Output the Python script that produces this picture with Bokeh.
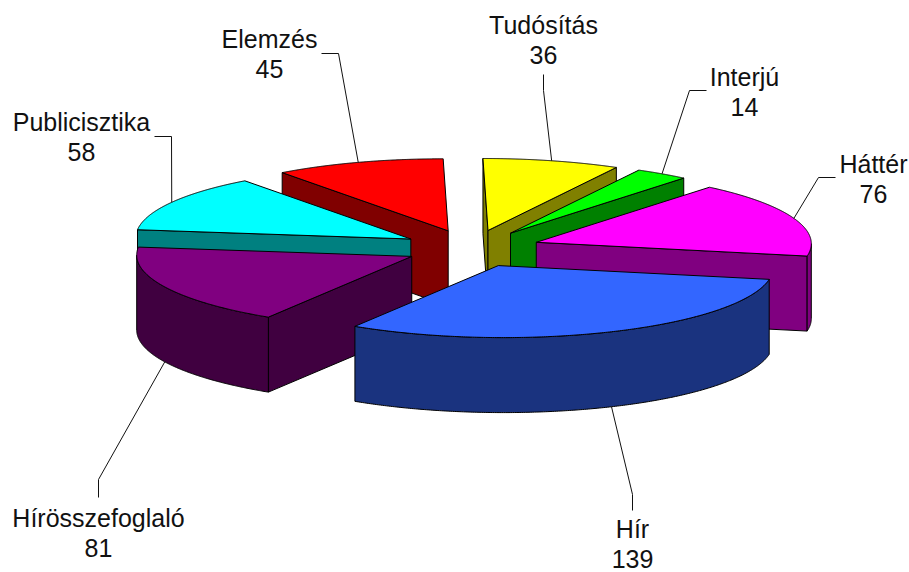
import numpy as np
from bokeh.core.properties import value
from bokeh.embed import file_html
from bokeh.models import Range1d
from bokeh.plotting import figure
from bokeh.resources import INLINE

# data, clockwise from twelve o'clock
categories = ["Tudósítás", "Interjú", "Háttér", "Hír", "Hírösszefoglaló", "Publicisztika", "Elemzés"]
values = [36, 14, 76, 139, 81, 58, 45]

# styles
top_colors = ["#FFFF00", "#00FF00", "#FF00FF", "#3366FF", "#800080", "#00FFFF", "#FF0000"]
side_colors = ["#808000", "#008000", "#800080", "#1A337F", "#400040", "#008080", "#800000"]

# label centre x, first baseline y, elbow point, whether the leader lands on the lower rim
label_x = [543, 744, 873, 632, 98, 81, 269]
label_y = [24, 76, 163, 528, 517, 121, 38]
elbow = [(543, 90), (689, 90), (818, 177), (632, 494), (98, 479), (171, 136), (338, 53)]
leader_end = [(543, 74), (706, 90), (835, 177), (632, 510), (98, 497), (154, 136), (321, 53)]
lower_rim = [False, False, False, True, True, False, False]

# projection of the pie
CX, CY = 471.0, 248.0
RX, RY = 275.0, 72.0
EX, EY = 68.0, 18.6
SKEW = 0.05
SHEAR = 0.07
DEPTH = 75.0
FONT_PX = 25
LINE_GAP = 30

W, H = 909, 572
p = figure(width=W, height=H, output_backend="svg", toolbar_location=None,
           x_range=Range1d(0, W), y_range=Range1d(H, 0), min_border=0)
p.axis.visible = False
p.grid.visible = False
p.outline_line_color = None

total = sum(values)
spans = np.radians(np.array(values) / total * 360.0)
starts = np.pi / 2 - np.concatenate(([0.0], np.cumsum(spans)[:-1]))
ends = starts - spans
mids = (starts + ends) / 2


def project(x, y):
    """Pie-plane offset to screen offset, y pointing up in the plane."""
    return x - SHEAR * y, -y


def apex(m):
    dx, dy = project(EX * np.cos(m) * (1 + SKEW * np.sin(m)), EY * np.sin(m))
    return CX + dx, CY + dy


def rim(m, t):
    ax, ay = apex(m)
    dx, dy = project(RX * np.cos(t), RY * np.sin(t))
    return ax + dx, ay + dy


def faces_viewer(n):
    return -SHEAR / RX * np.cos(n) - np.sin(n) / RY > 1e-9


def face(xs, ys, color):
    p.patch(list(xs), list(ys), fill_color=color, line_color="black", line_width=1, line_join="round")


for i in sorted(range(len(values)), key=lambda k: -np.sin(mids[k])):
    s, e, m = starts[i], ends[i], mids[i]
    ax, ay = apex(m)
    # radial cut faces, visible when their outward normal faces the viewer
    for t, n in ((s, s + np.pi / 2), (e, e - np.pi / 2)):
        if faces_viewer(n):
            rx, ry = rim(m, t)
            face([ax, rx, rx, ax], [ay, ry, ry + DEPTH, ay + DEPTH], side_colors[i])
    # outer wall: the part of the rim on the viewer's side
    ts = np.linspace(s, e, 241)
    keep = faces_viewer(ts)
    if keep.any():
        rx, ry = rim(m, ts[keep])
        face(np.concatenate((rx, rx[::-1])), np.concatenate((ry, ry[::-1] + DEPTH)), side_colors[i])
    # top
    rx, ry = rim(m, ts)
    face(np.concatenate(([ax], rx)), np.concatenate(([ay], ry)), top_colors[i])

for i, name in enumerate(categories):
    sx, sy = rim(mids[i], mids[i])
    if lower_rim[i]:
        sy += DEPTH
    p.line([sx, elbow[i][0], leader_end[i][0]], [sy, elbow[i][1], leader_end[i][1]],
           line_color="#111111", line_width=1)
    p.text([label_x[i]], [label_y[i]], text=[name], text_align="center", text_baseline="alphabetic",
           text_font=value("Liberation Sans"), text_font_size=f"{FONT_PX}px", text_color="#111111")
    p.text([label_x[i]], [label_y[i] + LINE_GAP], text=[str(values[i])], text_align="center",
           text_baseline="alphabetic", text_font=value("Liberation Sans"),
           text_font_size=f"{FONT_PX}px", text_color="#111111")

open("out.html", "w").write(file_html(p, INLINE))
